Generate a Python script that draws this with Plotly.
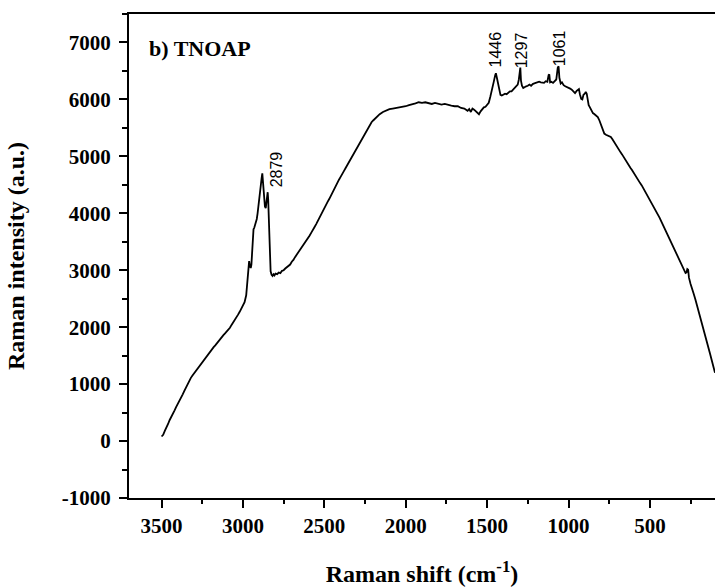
import plotly.graph_objects as go

# Raman spectrum
shift = [3500, 3490, 3480, 3470, 3460, 3450, 3440, 3430, 3420, 3410, 3400, 3390, 3380, 3370, 3360, 3350,
         3340, 3330, 3320, 3310, 3300, 3290, 3280, 3270, 3260, 3250, 3240, 3230, 3220, 3210, 3200, 3190,
         3180, 3170, 3160, 3150, 3140, 3130, 3120, 3110, 3100, 3090, 3080, 3070, 3060, 3050, 3040, 3030,
         3020, 3010, 3000, 2990, 2980, 2975, 2970, 2965, 2962, 2958, 2952, 2948, 2944, 2940, 2935, 2930,
         2925, 2920, 2915, 2910, 2905, 2900, 2895, 2890, 2885, 2881, 2877, 2873, 2869, 2865, 2860, 2856,
         2852, 2848, 2845, 2842, 2839, 2836, 2830, 2824, 2818, 2812, 2806, 2800, 2790, 2780, 2770, 2760,
         2750, 2740, 2730, 2720, 2710, 2700, 2690, 2680, 2670, 2660, 2650, 2640, 2630, 2620, 2610, 2600,
         2590, 2580, 2570, 2560, 2550, 2540, 2530, 2520, 2510, 2500, 2490, 2480, 2470, 2460, 2450, 2440,
         2430, 2420, 2410, 2400, 2390, 2380, 2370, 2360, 2350, 2340, 2330, 2320, 2310, 2300, 2290, 2280,
         2270, 2260, 2250, 2240, 2230, 2220, 2210, 2200, 2190, 2180, 2170, 2160,
         2140, 2120, 2100, 2080, 2060, 2040, 2020, 2000, 1980, 1960, 1940, 1920, 1900, 1880, 1860, 1840,
         1820, 1800, 1780, 1760, 1740, 1720, 1700, 1680, 1660, 1640, 1620, 1610, 1600, 1590, 1580, 1570,
         1560, 1550, 1540, 1530, 1520, 1510, 1500, 1490, 1480, 1470, 1460, 1450, 1446, 1440, 1432, 1425,
         1418, 1410, 1400, 1390, 1380, 1370, 1360, 1350, 1340, 1330, 1320, 1312, 1305, 1300, 1296, 1292,
         1286, 1278, 1270, 1260, 1250, 1240, 1230, 1220, 1210, 1200, 1190, 1180, 1170, 1160, 1150, 1140,
         1130, 1122, 1118, 1113, 1105, 1095, 1085, 1075, 1066, 1061, 1056, 1048, 1040, 1030, 1020, 1010,
         1000, 990, 980, 970, 960, 950, 942, 936, 930, 922, 915, 908, 900, 894, 888, 882,
         876, 870, 860, 850, 840, 830, 820, 810, 800, 790, 780, 770, 760, 750, 740, 730,
         720, 710, 700, 690, 680, 670, 660, 650, 640, 630, 620, 610, 600, 590, 580, 570,
         560, 550, 540, 527, 520, 510, 500, 490, 480, 470, 460, 450, 440, 430,
         415, 400, 384, 370, 360, 350, 340, 330, 320, 310, 300, 290, 281, 275, 270, 265, 260, 250, 240, 230,
         220, 210, 200, 190, 180, 170, 160, 150, 140, 130, 120, 110, 100]

intensity = [80, 110, 180, 230, 300, 370, 420, 490, 540, 600, 650, 700, 770, 820, 880, 940,
             1000, 1070, 1110, 1150, 1190, 1230, 1270, 1310, 1350, 1380, 1420, 1460, 1500, 1540, 1580, 1610,
             1650, 1680, 1720, 1760, 1790, 1830, 1860, 1890, 1920, 1950, 1990, 2040, 2080, 2130, 2170, 2220,
             2270, 2320, 2380, 2440, 2560, 2700, 2870, 3100, 3160, 3080, 3040, 3100, 3300, 3600, 3720, 3750,
             3800, 3810, 3900, 4000, 4150, 4250, 4350, 4500, 4620, 4700, 4560, 4300, 4150, 4120, 4090, 4200,
             4330, 4370, 4250, 3900, 3500, 3150, 2980, 2920, 2900, 2930, 2910, 2940, 2930, 2960, 2950, 2990,
             3000, 3030, 3050, 3080, 3100, 3150, 3180, 3230, 3270, 3320, 3350, 3400, 3450, 3480, 3530, 3570,
             3610, 3660, 3700, 3760, 3810, 3870, 3920, 3980, 4030, 4090, 4150, 4200, 4250, 4310, 4370, 4420,
             4470, 4530, 4590, 4640, 4680, 4740, 4790, 4840, 4900, 4940, 4990, 5050, 5100, 5150, 5200, 5250,
             5310, 5360, 5400, 5460, 5500, 5550, 5600, 5630, 5660, 5690, 5720, 5740,
             5780, 5810, 5830, 5840, 5850, 5850, 5860, 5880, 5900, 5910, 5930, 5950, 5940, 5950, 5930, 5920,
             5940, 5920, 5910, 5920, 5900, 5890, 5880, 5880, 5850, 5840, 5800, 5830, 5780, 5840, 5820, 5790,
             5760, 5740, 5790, 5820, 5860, 5870, 5900, 5940, 6050, 6200, 6300, 6430, 6460, 6380, 6250, 6150,
             6080, 6070, 6080, 6100, 6090, 6110, 6140, 6140, 6170, 6190, 6230, 6260, 6350, 6560, 6560, 6330,
             6240, 6200, 6220, 6230, 6240, 6260, 6240, 6270, 6280, 6290, 6290, 6310, 6300, 6300, 6290, 6320,
             6310, 6430, 6440, 6300, 6310, 6290, 6320, 6350, 6560, 6580, 6380, 6280, 6300, 6250, 6230, 6220,
             6200, 6190, 6170, 6130, 6110, 6150, 6160, 6180, 6090, 6010, 6000, 6080, 6100, 6130, 6100, 5980,
             5900, 5870, 5800, 5760, 5740, 5720, 5690, 5630, 5550, 5470, 5400, 5380, 5370, 5350, 5340, 5300,
             5250, 5200, 5160, 5110, 5070, 5030, 4980, 4935, 4890, 4850, 4800, 4760, 4710, 4660, 4620, 4570,
             4530, 4490, 4440, 4380, 4340, 4290, 4240, 4180, 4140, 4080, 4030, 3970, 3920, 3860,
             3770, 3680, 3590, 3500, 3450, 3380, 3320, 3250, 3190, 3130, 3070, 3010, 2950, 2960, 3020, 3010, 2870, 2760, 2680, 2580,
             2480, 2380, 2270, 2160, 2060, 1950, 1840, 1730, 1630, 1530, 1420, 1310, 1200]

peak_labels = ["2879", "1446", "1297", "1061"]
peak_x = [2795, 1450, 1291, 1058]
peak_y = [4777, 6882, 6865, 6900]

x_ticks = [3500, 3000, 2500, 2000, 1500, 1000, 500]
y_ticks = [-1000, 0, 1000, 2000, 3000, 4000, 5000, 6000, 7000]
y_tick_text = ["-1000", "0", "1000", "2000", "3000", "4000", "5000", "6000", "7000"]

serif = "Liberation Serif, Times New Roman, serif"

fig = go.Figure()
fig.add_trace(go.Scatter(x=shift, y=intensity, mode="lines",
                         line=dict(color="black", width=1.8), showlegend=False))

for lab, px, py in zip(peak_labels, peak_x, peak_y):
    fig.add_annotation(x=px, y=py, xref="x", yref="y", text=lab, showarrow=False,
                       textangle=-90, xanchor="center", yanchor="middle",
                       font=dict(family="Liberation Sans, Arial, sans-serif", size=16, color="black"))

fig.add_annotation(x=0.03, y=0.928, xref="paper", yref="paper", text="b) TNOAP",
                   showarrow=False, xanchor="left", yanchor="middle",
                   font=dict(family=serif, size=22, color="black", weight="bold"))

fig.update_layout(
    width=715, height=588,
    margin=dict(l=129, r=0, t=14, b=90),
    paper_bgcolor="white", plot_bgcolor="white",
    xaxis=dict(
        range=[3700, 100], tickvals=x_ticks, ticks="outside", ticklen=8, tickwidth=2,
        tickcolor="black", showline=True, linecolor="black", linewidth=2, mirror=True,
        showgrid=False, zeroline=False,
        minor=dict(dtick=250, ticks="outside", ticklen=4, tickwidth=2, tickcolor="black", showgrid=False),
        tickfont=dict(family=serif, size=21, color="black", weight="bold"),
        title=dict(text="Raman shift (cm<sup>-1</sup>)", standoff=28,
                   font=dict(family=serif, size=24, color="black", weight="bold")),
    ),
    yaxis=dict(
        range=[-1000, 7500], tickvals=y_ticks, ticktext=y_tick_text, ticks="outside", ticklen=8, tickwidth=2,
        tickcolor="black", showline=True, linecolor="black", linewidth=2, mirror=False,
        showgrid=False, zeroline=False, ticklabelstandoff=4,
        minor=dict(dtick=500, ticks="outside", ticklen=5, tickwidth=2, tickcolor="black", showgrid=False),
        tickfont=dict(family=serif, size=21, color="black", weight="bold"),
        title=dict(text="Raman intensity (a.u.)", standoff=30,
                   font=dict(family=serif, size=24, color="black", weight="bold")),
    ),
)

fig.write_html("out.html")
